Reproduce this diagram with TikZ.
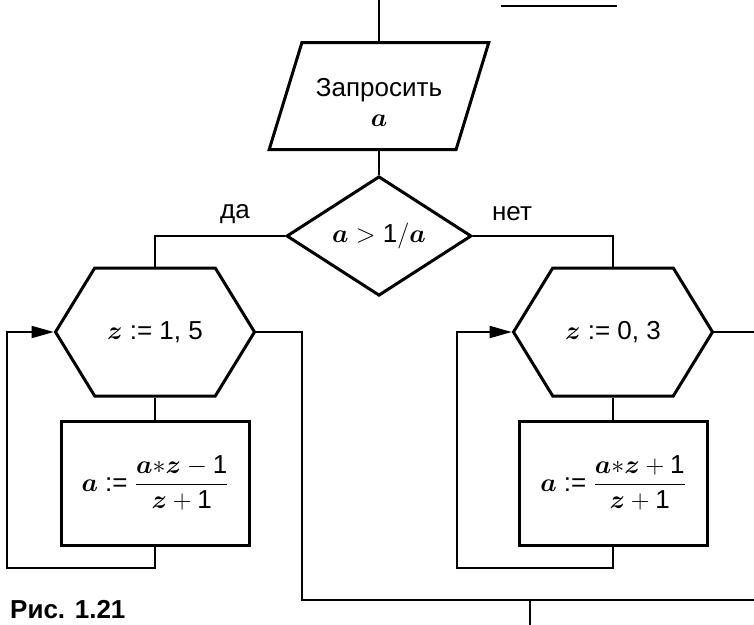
\RequirePackage{fix-cm}
\documentclass[tikz,border=0pt]{standalone}
\usepackage{amsmath}
\usepackage{fontspec}
\setmainfont{Liberation Sans}
\usetikzlibrary{arrows.meta,positioning,shapes.geometric,shapes.symbols}
% math letters in bold italic, as in the print
\newcommand{\va}{\boldsymbol{a}}
\newcommand{\vz}{\boldsymbol{z}}
\tikzset{
    %Define standard arrow tip
    >={Triangle[length=22pt,width=12pt]},
    %Define style for blocks
    blok/.style={
           draw=black, line width=3pt,
           inner sep=0pt,
           align=center},
    iobox/.style={
           blok, trapezium,
           inner xsep=14pt,
           inner ysep=23pt,
           trapezium left angle=73,
           trapezium right angle=107},
    testbox/.style={
           blok, diamond,
           minimum width=185pt,
           minimum height=117pt},
    loophex/.style={
           blok, signal,
           signal to=east and west,
           signal pointer angle=117,
           minimum width=199pt,
           minimum height=128pt},
    procbox/.style={
           blok, rectangle,
           minimum width=188pt,
           minimum height=124pt},
    lbl/.style={inner sep=0pt},
    caption/.style={inner sep=0pt, font=\fontsize{26}{30}\selectfont\bfseries},
    % Define line style
    lin/.style={line width=1.8pt},
    pil/.style={lin, ->}
}
\begin{document}
\begin{tikzpicture}[x=1pt, y=-1pt, font=\fontsize{26}{30}\selectfont]
 \useasboundingbox (0,0) rectangle (754,624);
 \coordinate (start) at (379,-8);
 \node[iobox](ask) at (379,96) {\rule{0pt}{31pt}Запросить\\$\va$};
 \node[testbox](test) at (379,236) {$\va > \text{1}/\va$};
 \node[lbl](yes) at (235,214) {да};
 \node[lbl](no) at (512,214) {нет};
 \node[loophex](hexL) at (155,332) {$\vz$ := 1, 5};
 \node[procbox, below=22pt of hexL](boxL) {$\va$ := $\dfrac{\va{\ast}\vz - \text{1}}{\vz + \text{1}}$};
 \node[loophex](hexR) at (613,332) {$\vz$ := 0, 3};
 \node[procbox, below=22pt of hexR](boxR) {$\va$ := $\dfrac{\va{\ast}\vz + \text{1}}{\vz + \text{1}}$};
 \coordinate (backL) at (7,568);
 \coordinate (backR) at (457,568);
 \coordinate (exitL) at (302,600);
 \coordinate (exitR) at (762,600);
 \coordinate (join) at (530,600);
 \coordinate (end) at (530,632);
 \node[caption, anchor=base west](cap) at (10,618) {Рис. 1.21};
 \draw[line width=2.2pt] (501,6) -- (617,6);
 % connectors
 \draw[lin] (start) -- (ask.north);
 \draw[lin] (ask.south) -- (test.north);
 \draw[lin] (test.west) -| (hexL.north);
 \draw[lin] (test.east) -| (hexR.north);
 \draw[lin] (hexL.south) -- (boxL.north);
 \draw[lin] (hexR.south) -- (boxR.north);
 \draw[pil] (boxL.south) |- (backL) |- (hexL.west);
 \draw[pil] (boxR.south) |- (backR) |- (hexR.west);
 \draw[lin] (hexL.east) -| (exitL) -- (join);
 \draw[lin] (hexR.east) -| (exitR) -- (join);
 \draw[lin] (join) -- (end);
\end{tikzpicture}
\end{document}
